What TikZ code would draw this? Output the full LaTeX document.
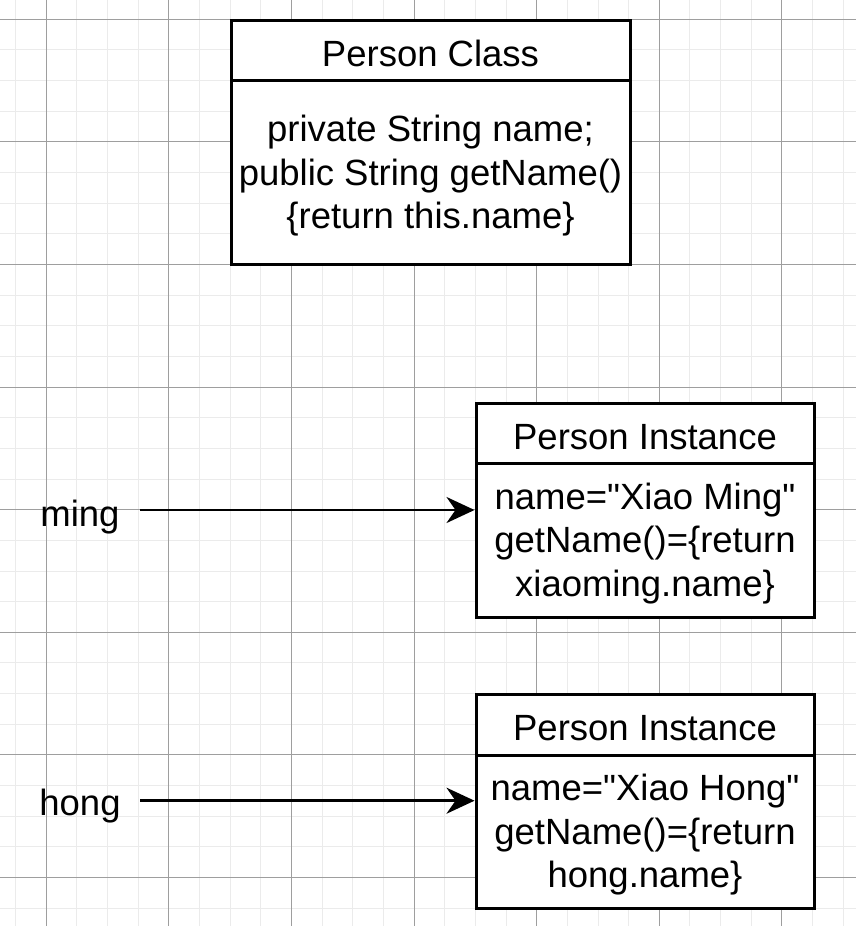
\documentclass[tikz,border=0pt]{standalone}
\usepackage{fontspec}
\setmainfont{Liberation Sans}[Ligatures=TeXOff]
\usetikzlibrary{arrows.meta}
\definecolor{gridmajor}{HTML}{9E9E9E}
\definecolor{gridminor}{HTML}{EBEBEB}
\tikzset{
  minorline/.style={draw=gridminor, line width=1pt},
  majorline/.style={draw=gridmajor, line width=1pt},
  boxpart/.style={draw=black, line width=3pt, fill=white, inner sep=0pt},
  txt/.style={inner sep=0pt, align=center, font=\fontsize{36.5}{43.5}\selectfont},
  arr/.style={draw=black, line width=2.6pt, -{Stealth[length=28pt, width=26pt, inset=9pt]}}
}
\begin{document}
\begin{tikzpicture}[x=1pt,y=-1pt]
\useasboundingbox (0,0) rectangle (856,926);
\fill[white] (0,0) rectangle (856,926);
% grid
\foreach \k in {0,...,27} { \draw[minorline] ({15.65+\k*30.65},0) -- ({15.65+\k*30.65},926); }
\foreach \k in {-1,...,29} { \draw[minorline] (0,{19.3+\k*30.65}) -- (856,{19.3+\k*30.65}); }
\foreach \k in {0,...,6} { \draw[majorline] ({46.3+\k*122.6},0) -- ({46.3+\k*122.6},926); }
\foreach \k in {0,...,7} { \draw[majorline] (0,{19.3+\k*122.6}) -- (856,{19.3+\k*122.6}); }
% Person Class
\node[boxpart, minimum width=399pt, minimum height=61pt] (pch) at (430.5,50.5) {};
\node[boxpart, minimum width=399pt, minimum height=184pt] (pcb) at (430.5,172.7) {};
\node[txt] (pcht) at ([yshift=-2.5pt]pch.center) {Person Class};
\node[txt] (pcbt) at ([yshift=-3pt]pcb.center) {private String name;\\public String getName()\\\{return this.name\}};
% Instance 1
\node[boxpart, minimum width=338pt, minimum height=60pt] (i1h) at (645,433.3) {};
\node[boxpart, minimum width=338pt, minimum height=154pt] (i1b) at (645,540.3) {};
\node[txt] (i1ht) at ([yshift=-3.5pt]i1h.center) {Person Instance};
\node[txt] (i1bt) at ([yshift=-3pt]i1b.center) {name="Xiao Ming"\\getName()=\{return\\xiaoming.name\}};
% Instance 2
\node[boxpart, minimum width=338pt, minimum height=61pt] (i2h) at (645,724.5) {};
\node[boxpart, minimum width=338pt, minimum height=153pt] (i2b) at (645,831.5) {};
\node[txt] (i2ht) at ([yshift=-3.5pt]i2h.center) {Person Instance};
\node[txt] (i2bt) at ([yshift=-3.5pt]i2b.center) {name="Xiao Hong"\\getName()=\{return\\hong.name\}};
% labels and arrows
\node[txt] (ming) at (80,517) {ming};
\node[txt] (hong) at (80,806) {hong};
\coordinate (ms) at (140,510);
\coordinate (hs) at (140,800.7);
\draw[arr] (ms) -- (ms -| i1b.west);
\draw[arr] (hs) -- (hs -| i2b.west);
\end{tikzpicture}
\end{document}
